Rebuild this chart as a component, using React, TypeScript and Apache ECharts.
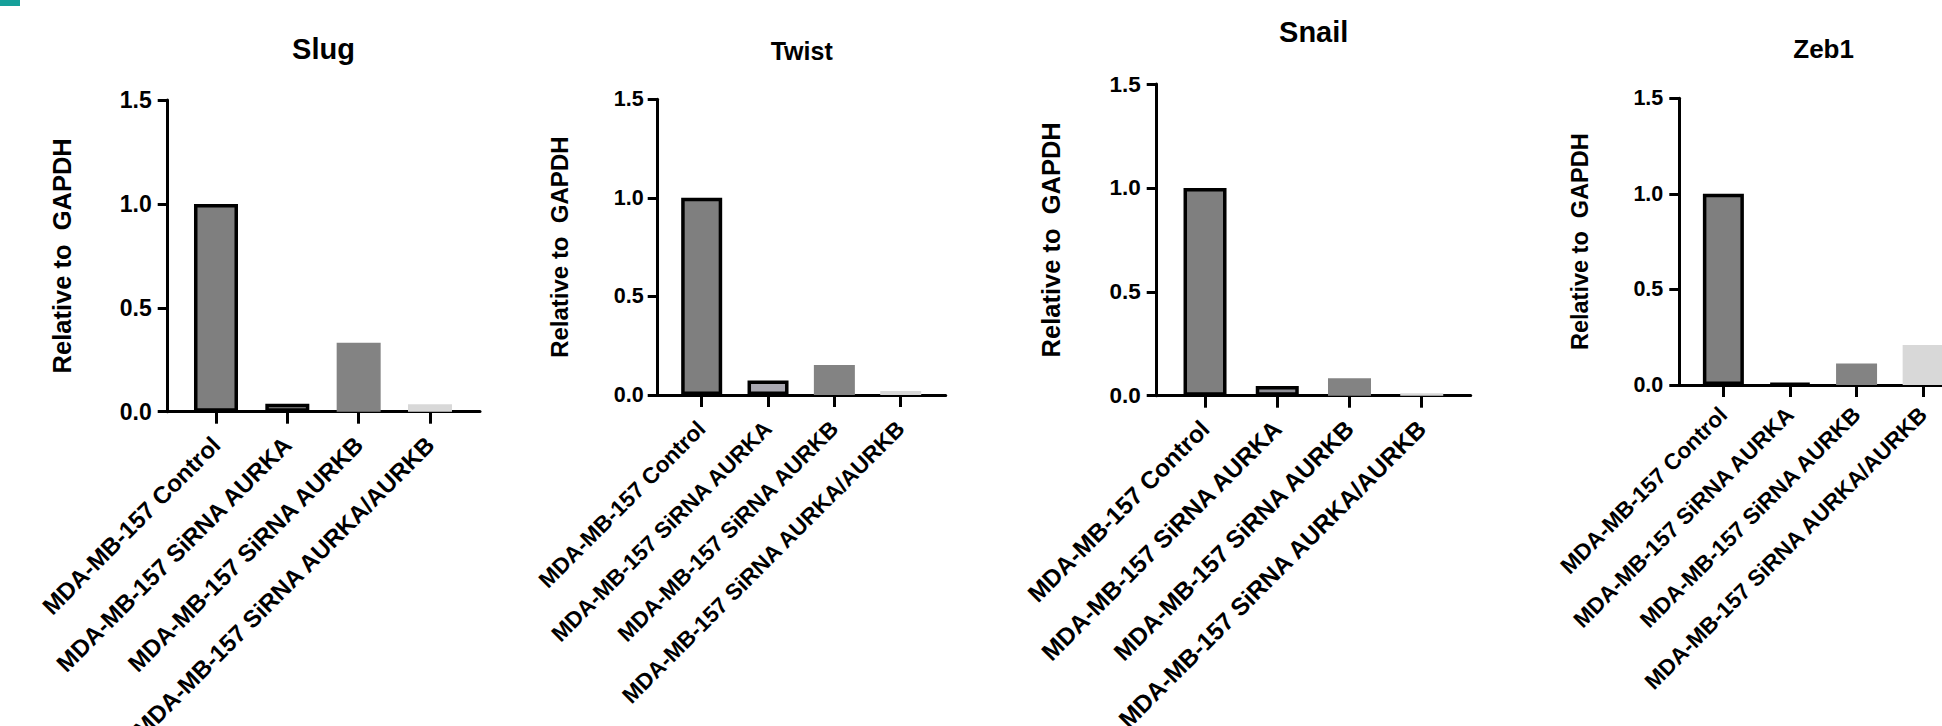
import React, { useEffect, useRef } from "react";
import * as echarts from "echarts";

const categories = [
  "MDA-MB-157 Control",
  "MDA-MB-157 SiRNA AURKA",
  "MDA-MB-157 SiRNA AURKB",
  "MDA-MB-157 SiRNA AURKA/AURKB",
];
const titles = ["Slug", "Twist", "Snail", "Zeb1"];
const slugValues = [1.0, 0.038, 0.332, 0.036];
const twistValues = [1.0, 0.073, 0.152, 0.02];
const snailValues = [1.0, 0.047, 0.084, 0.012];
const zeb1Values = [1.0, 0.007, 0.113, 0.209];
const yTicks = [0, 0.5, 1.0, 1.5];
const yName = "Relative to  GAPDH";

const FONT = "'Liberation Sans', Arial, sans-serif";

const layouts = [
  { left: 167.7, top: 100, width: 312.3, height: 311.7, min: -0.677, max: 3.701, barWidth: 44, titleX: 323.5, titleTop: 34, titleSize: 29, tickFont: 23, nameFont: 25.5, catFont: 24, nameGap: 93, yMargin: 16, xMargin: 29, bar2: "#8e8e8e" },
  { left: 657.7, top: 99.3, width: 288, height: 295.7, min: -0.663, max: 3.678, barWidth: 41, titleX: 801.7, titleTop: 38, titleSize: 25, tickFont: 21.5, nameFont: 24, catFont: 22.5, nameGap: 86, yMargin: 14, xMargin: 30, bar2: "#a9a8b1" },
  { left: 1156.7, top: 84, width: 314, height: 311.7, min: -0.669, max: 3.678, barWidth: 43, titleX: 1313.7, titleTop: 17, titleSize: 29, tickFont: 22.5, nameFont: 25.5, catFont: 24.5, nameGap: 93, yMargin: 16, xMargin: 29, bar2: "#8f8f96" },
  { left: 1679.3, top: 98.3, width: 289, height: 286.7, min: -0.662, max: 3.678, barWidth: 41, titleX: 1823.6, titleTop: 35.6, titleSize: 26, tickFont: 21.5, nameFont: 23.5, catFont: 22.5, nameGap: 87, yMargin: 16, xMargin: 26, bar2: "#000000" },
];

const allValues = [slugValues, twistValues, snailValues, zeb1Values];

export default function App() {
  const ref = useRef<HTMLDivElement>(null);
  useEffect(() => {
    if (!ref.current) return;
    const chart = echarts.init(ref.current, undefined, { renderer: "svg" });
    const grids: any[] = [];
    const xAxes: any[] = [];
    const yAxes: any[] = [];
    const series: any[] = [];
    const titleOpts: any[] = [];
    layouts.forEach((L, i) => {
      grids.push({
        left: L.left,
        top: L.top,
        width: L.width,
        height: L.height,
        containLabel: false,
        outerBoundsMode: "none",
      });
      xAxes.push({
        type: "value",
        gridIndex: i,
        min: L.min,
        max: L.max,
        splitLine: { show: false },
        axisLine: { show: true, onZero: false, lineStyle: { color: "#000", width: 3 } },
        axisTick: { show: true, customValues: [0, 1, 2, 3], length: 12, lineStyle: { color: "#000", width: 3 } },
        axisLabel: {
          customValues: [0, 1, 2, 3],
          formatter: (v: number) => categories[Math.round(v)] ?? "",
          rotate: 45,
          margin: L.xMargin,
          color: "#000",
          fontSize: L.catFont,
          fontWeight: "bold",
          fontFamily: FONT,
        },
      });
      yAxes.push({
        type: "value",
        gridIndex: i,
        min: yTicks[0],
        max: yTicks[yTicks.length - 1],
        interval: 0.5,
        splitLine: { show: false },
        axisLine: { show: true, onZero: false, lineStyle: { color: "#000", width: 3 } },
        axisTick: { show: true, length: 10, lineStyle: { color: "#000", width: 3 } },
        axisLabel: {
          formatter: (v: number) => v.toFixed(1),
          margin: L.yMargin,
          color: "#000",
          fontSize: L.tickFont,
          fontWeight: "bold",
          fontFamily: FONT,
        },
        name: yName,
        nameLocation: "middle",
        nameGap: L.nameGap,
        nameTextStyle: { color: "#000", fontSize: L.nameFont, fontWeight: "bold", fontFamily: FONT },
      });
      const vals = allValues[i];
      const fills = ["#7f7f7f", L.bar2, "#838383", "#d8d8d8"];
      const bordered = [true, true, false, false];
      series.push({
        type: "bar",
        xAxisIndex: i,
        yAxisIndex: i,
        barWidth: L.barWidth,
        data: vals.map((v, k) => ({
          value: [k, v],
          itemStyle: {
            color: fills[k],
            borderColor: "#000",
            borderWidth: bordered[k] ? 3.5 : 0,
          },
        })),
      });
      titleOpts.push({
        text: titles[i],
        left: L.titleX,
        top: L.titleTop,
        textAlign: "center",
        padding: 0,
        textStyle: { color: "#000", fontSize: L.titleSize, fontWeight: "bold", fontFamily: FONT },
      });
    });
    chart.setOption({
      animation: false,
      backgroundColor: "#fff",
      title: titleOpts,
      grid: grids,
      xAxis: xAxes,
      yAxis: yAxes,
      series,
      graphic: [
        { type: "rect", left: 0, top: 0, shape: { x: 0, y: 0, width: 20, height: 6 }, style: { fill: "#16a09a" } },
      ],
    });
    return () => chart.dispose();
  }, []);
  return (
    <div
      ref={ref}
      style={{ position: "absolute", left: 0, top: 0, width: 1942, height: 726, overflow: "hidden" }}
    />
  );
}
